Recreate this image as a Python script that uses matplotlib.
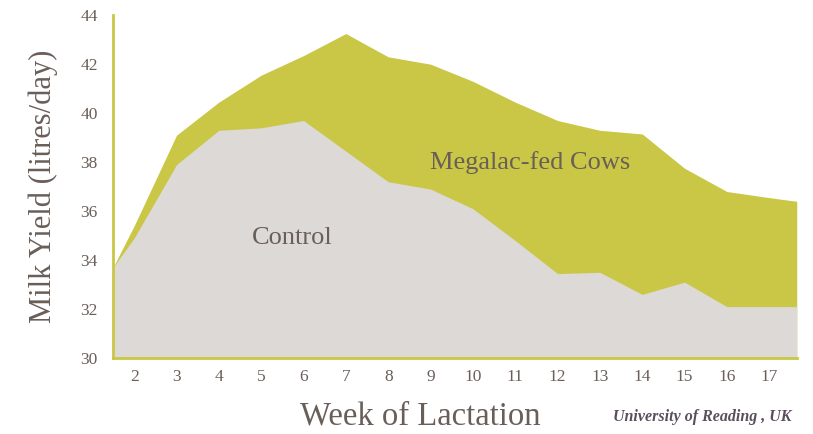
import matplotlib
matplotlib.use("Agg")
import matplotlib.pyplot as plt

# Milk yield by week of lactation
weeks = [1.5, 2, 3, 4, 5, 6, 7, 8, 9, 10, 11, 12, 13, 14, 15, 16, 17, 17.65]
megalac = [33.7, 35.4, 39.1, 40.45, 41.55, 42.35, 43.25, 42.3, 42.0, 41.3,
           40.45, 39.7, 39.3, 39.15, 37.75, 36.8, 36.55, 36.4]
control = [33.7, 34.9, 37.9, 39.3, 39.4, 39.7, 38.45, 37.2, 36.9, 36.1,
           34.8, 33.45, 33.5, 32.6, 33.1, 32.1, 32.1, 32.1]
week_ticks = list(range(2, 18))
yield_ticks = list(range(30, 45, 2))

OLIVE = "#c9c745"
GREY = "#dcd9d6"
TEXT = "#6a5f58"
SERIF = ["Liberation Serif", "DejaVu Serif"]

plt.rcParams["font.family"] = SERIF

fig = plt.figure(figsize=(8.13, 4.34), dpi=100)
ax = fig.add_axes([0.139, 0.175, 0.841, 0.79])

ax.fill_between(weeks, 30, megalac, color=OLIVE, linewidth=0)
ax.fill_between(weeks, 30, control, color=GREY, linewidth=0)

ax.set_xlim(weeks[0], weeks[-1])
ax.set_ylim(30, 44)
ax.set_xticks(week_ticks)
ax.set_yticks(yield_ticks)
ax.tick_params(length=0, labelsize=12.5, labelcolor=TEXT)
ax.tick_params(axis="y", pad=11)
ax.tick_params(axis="x", pad=8)

for side in ("top", "right"):
    ax.spines[side].set_visible(False)
for side in ("left", "bottom"):
    ax.spines[side].set_color(OLIVE)
    ax.spines[side].set_linewidth(2)

ax.set_ylabel("Milk Yield (litres/day)", fontsize=22, color=TEXT)
ax.yaxis.set_label_coords(-0.08, 0.5)
ax.set_xlabel("Week of Lactation", fontsize=23.5, color=TEXT)
ax.xaxis.set_label_coords(0.45, -0.125)

ax.text(5.73, 34.9, "Control", fontsize=19, color=TEXT, ha="center", va="center")
ax.text(11.35, 38.0, "Megalac-fed Cows", fontsize=19, color=TEXT,
        ha="center", va="center")

fig.text(0.974, 0.02, "University of Reading , UK", fontsize=11.5,
         style="italic", weight="bold", color="#5a4e5e", ha="right", va="bottom")

fig.savefig("out.png", dpi=100, facecolor="white")
